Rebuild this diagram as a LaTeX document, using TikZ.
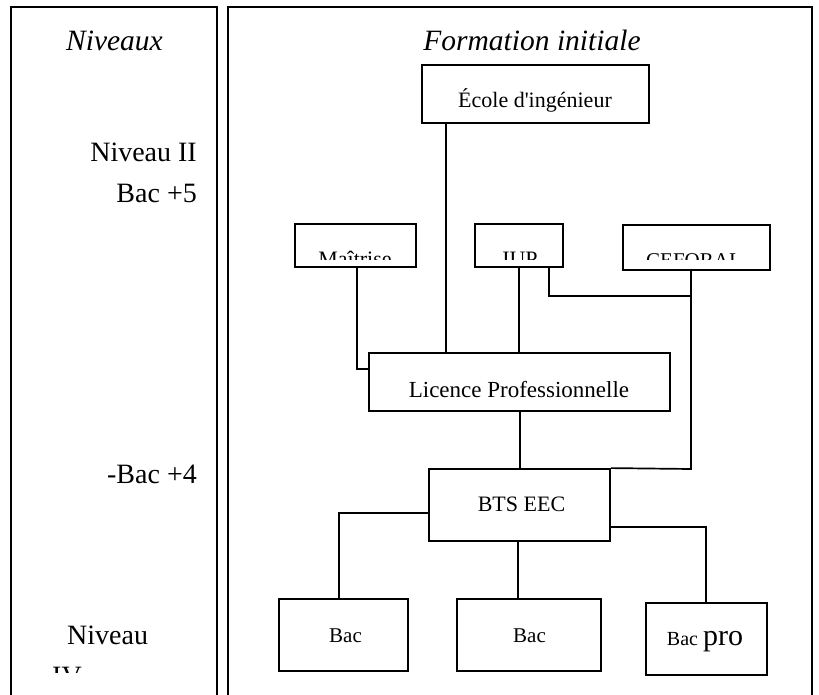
\documentclass[tikz,border=0pt]{standalone}
\usepackage{fontspec}
\setmainfont{Liberation Serif}
\begin{document}
\begin{tikzpicture}[x=1pt,y=-1pt,
  panel/.style={draw,line width=2pt},
  box/.style={draw,line width=1.8pt,rectangle,inner sep=0pt},
  link/.style={line width=1.7pt},
  txt/.style={anchor=base,inner sep=0pt,font=\fontsize{22}{26}\selectfont},
  side/.style={anchor=base east,inner sep=0pt,font=\fontsize{28}{34}\selectfont},
  ttl/.style={anchor=base,inner sep=0pt,font=\fontsize{29.5}{34}\selectfont\itshape}]
\useasboundingbox (0,0) rectangle (819,695);
\clip (0,0) rectangle (819,695);
% panels
\draw[panel] (11,7) rectangle (217,720);
\draw[panel] (228,7) rectangle (812,720);
\node[ttl] (tniv) at (114.5,51) {Niveaux};
\node[ttl] (tform) at (532,51) {Formation initiale};
% left labels
\node[side] (n2) at (197,162) {Niveau II};
\node[side] (b5) at (197,203) {Bac +5};
\node[side] (b4) at (197,483) {-Bac +4};
\node[anchor=base west,inner sep=0pt,font=\fontsize{28}{34}\selectfont] (n4) at (67,644) {Niveau};
\begin{scope}
\clip (20,600) rectangle (210,672);
\node[anchor=base west,inner sep=0pt,font=\fontsize{28}{34}\selectfont] (iv) at (52,685) {IV};
\end{scope}
% boxes
\node[box,minimum width=227pt,minimum height=58pt] (ecole) at (535.5,94) {};
\node[box,minimum width=121pt,minimum height=43pt] (mait) at (355.5,245.5) {};
\node[box,minimum width=88pt,minimum height=43pt] (iup) at (519,245.5) {};
\node[box,minimum width=147pt,minimum height=45pt] (cef) at (696.5,247.5) {};
\node[box,minimum width=301pt,minimum height=58pt] (lic) at (519.5,382) {};
\node[box,minimum width=181pt,minimum height=72pt] (bts) at (519.5,505) {};
\node[box,minimum width=129pt,minimum height=72pt] (bac1) at (343.5,635) {};
\node[box,minimum width=144pt,minimum height=72pt] (bac2) at (529,635) {};
\node[box,minimum width=121pt,minimum height=72pt] (bacp) at (706.5,639) {};
% texts
\node[txt] (tecole) at (535,108) {École d\textquotesingle ingénieur};
\begin{scope}
\clip (280,226) rectangle (790,259);
\node[txt] (tmait) at (355,266.5) {Maîtrise};
\node[txt] (tiup) at (520,266.5) {IUP};
\node[txt,font=\fontsize{21}{25}\selectfont] (tcef) at (694,267) {CEFORAL};
\end{scope}
\node[txt,font=\fontsize{23}{27}\selectfont] (tlic) at (519,397) {Licence Professionnelle};
\node[txt] (tbts) at (521.5,511) {BTS EEC};
\node[txt,font=\fontsize{21}{25}\selectfont] (tbac1) at (345.5,642) {Bac};
\node[txt,font=\fontsize{21}{25}\selectfont] (tbac2) at (529.5,642) {Bac};
\node[txt,font=\fontsize{20}{25}\selectfont] (tbacp) at (705,645) {Bac \fontsize{30}{34}\selectfont pro};
% connector anchor points
\coordinate (e1) at (446,123);
\coordinate (m1) at (357,267);
\coordinate (m2) at (357,369);
\coordinate (i1) at (519,267);
\coordinate (i2) at (549,267);
\coordinate (i3) at (549,296);
\coordinate (c1) at (691,270);
\coordinate (c2) at (691,296);
\coordinate (c3) at (691,469);
\coordinate (s1) at (339,513);
\coordinate (s2) at (518,541);
\coordinate (s3) at (706,527);
% connectors
\draw[link] (e1) -- (e1 |- lic.north);
\draw[link] (m1) -- (m2) -- (m2 -| lic.west);
\draw[link] (i1) -- (i1 |- lic.north);
\draw[link] (i2) -- (i3) -- (c2);
\draw[link] (c1) -- (c3) -- (bts.north east);
\draw[link] (lic.south) ++(0.5,0) coordinate (l1) -- (l1 |- bts.north);
\draw[link] (s1 -| bts.west) -- (s1) -- (s1 |- bac1.north);
\draw[link] (s2) -- (s2 |- bac2.north);
\draw[link] (s3 -| bts.east) -- (s3) -- (s3 |- bacp.north);
\end{tikzpicture}
\end{document}
